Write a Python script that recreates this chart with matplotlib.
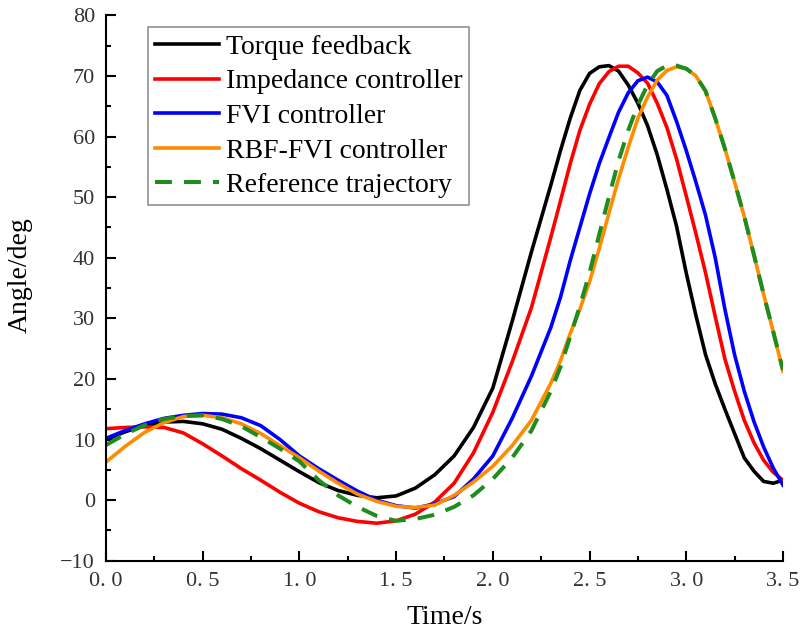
import matplotlib
matplotlib.use("Agg")
import matplotlib.pyplot as plt
from matplotlib.ticker import MultipleLocator, FixedLocator, FixedFormatter

plt.rcParams['font.family'] = ['Liberation Serif', 'DejaVu Serif']

# torque feedback
t_torque = [0, .1, .2, .3, .4, .5, .6, .7, .8, .9, 1.0, 1.1, 1.2, 1.3, 1.4, 1.5, 1.6, 1.7, 1.8, 1.9,
            2.0, 2.1, 2.2, 2.3, 2.35, 2.4, 2.45, 2.5, 2.55, 2.6, 2.65, 2.7, 2.75, 2.8, 2.85, 2.9,
            2.95, 3.0, 3.05, 3.1, 3.15, 3.2, 3.25, 3.3, 3.35, 3.4, 3.45, 3.5]
y_torque = [10.0, 11.3, 12.3, 12.9, 13.0, 12.6, 11.7, 10.2, 8.5, 6.6, 4.7, 2.9, 1.6, 0.8, 0.4, 0.7,
            2.0, 4.2, 7.3, 12.0, 18.5, 29.5, 41.0, 52.0, 57.7, 63.0, 67.6, 70.4, 71.5, 71.7, 70.8,
            68.5, 65.5, 61.8, 57.0, 51.3, 45.2, 37.5, 30.5, 24.0, 19.2, 15.0, 11.0, 7.0, 4.8, 3.1,
            2.8, 3.3]

# impedance controller
t_imp = [0, .1, .2, .3, .4, .5, .6, .7, .8, .9, 1.0, 1.1, 1.2, 1.3, 1.4, 1.5, 1.6, 1.7, 1.8, 1.9,
         2.0, 2.1, 2.2, 2.3, 2.35, 2.4, 2.45, 2.5, 2.55, 2.6, 2.65, 2.7, 2.75, 2.8, 2.85, 2.9,
         2.95, 3.0, 3.05, 3.1, 3.15, 3.2, 3.25, 3.3, 3.35, 3.4, 3.45, 3.5]
y_imp = [11.8, 12.0, 12.1, 12.0, 11.1, 9.3, 7.3, 5.2, 3.3, 1.3, -0.5, -1.9, -2.9, -3.5, -3.8, -3.4,
         -2.3, -0.3, 2.8, 7.8, 14.5, 22.8, 31.8, 43.4, 49.4, 55.5, 61.0, 65.3, 68.7, 70.7, 71.6,
         71.6, 70.5, 68.8, 65.5, 61.5, 56.3, 50.2, 44.0, 37.5, 30.3, 23.3, 18.0, 13.2, 9.5, 6.6,
         4.6, 3.3]

# FVI controller
t_fvi = [0, .1, .2, .3, .4, .5, .6, .7, .8, .9, 1.0, 1.1, 1.2, 1.3, 1.4, 1.5, 1.6, 1.7, 1.8, 1.9,
         2.0, 2.1, 2.2, 2.3, 2.35, 2.4, 2.45, 2.5, 2.55, 2.6, 2.65, 2.7, 2.75, 2.8, 2.85, 2.9,
         2.95, 3.0, 3.05, 3.1, 3.15, 3.2, 3.25, 3.3, 3.35, 3.4, 3.45, 3.5]
y_fvi = [10.2, 11.5, 12.6, 13.5, 14.0, 14.3, 14.2, 13.6, 12.3, 10.0, 7.3, 5.2, 3.3, 1.5, 0.0, -0.9,
         -1.3, -0.6, 0.6, 3.5, 7.3, 13.5, 20.5, 28.5, 33.5, 39.5, 45.0, 50.5, 55.5, 59.8, 64.0,
         67.2, 69.2, 69.8, 69.0, 66.8, 62.5, 57.7, 52.5, 47.0, 40.0, 31.5, 24.0, 18.0, 13.0, 8.8,
         5.3, 2.5]

# RBF-FVI controller
t_rbf = [0, .1, .2, .3, .4, .5, .6, .7, .8, .9, 1.0, 1.1, 1.2, 1.3, 1.4, 1.5, 1.6, 1.7, 1.8, 1.9,
         2.0, 2.1, 2.2, 2.3, 2.35, 2.4, 2.45, 2.5, 2.55, 2.6, 2.65, 2.7, 2.75, 2.8, 2.85, 2.9,
         2.95, 3.0, 3.05, 3.1, 3.15, 3.2, 3.25, 3.3, 3.35, 3.4, 3.45, 3.5]
y_rbf = [6.3, 8.9, 11.2, 12.8, 13.8, 14.0, 13.6, 12.6, 11.0, 9.0, 7.0, 4.8, 2.8, 1.0, -0.2, -1.0,
         -1.2, -0.8, 0.8, 3.0, 5.6, 9.0, 13.2, 19.3, 23.0, 27.5, 31.5, 36.0, 41.5, 47.3, 53.0,
         58.2, 63.0, 66.5, 69.3, 70.9, 71.5, 71.2, 70.0, 67.5, 63.0, 58.0, 52.5, 46.8, 40.5, 34.0,
         27.8, 21.3]

# reference trajectory
t_ref = [0, .1, .2, .3, .4, .5, .6, .7, .8, .9, 1.0, 1.1, 1.2, 1.3, 1.4, 1.5, 1.6, 1.7, 1.8, 1.9,
         2.0, 2.1, 2.2, 2.3, 2.35, 2.4, 2.45, 2.5, 2.55, 2.6, 2.65, 2.7, 2.75, 2.8, 2.85, 2.9,
         2.95, 3.0, 3.05, 3.1, 3.15, 3.2, 3.25, 3.3, 3.35, 3.4, 3.45, 3.5]
y_ref = [9.1, 10.9, 12.4, 13.4, 13.9, 14.0, 13.4, 12.2, 10.4, 8.5, 6.4, 3.3, 0.8, -1.1, -2.6, -3.4,
         -3.1, -2.4, -1.1, 0.8, 3.5, 7.0, 11.5, 18.0, 22.0, 27.0, 32.0, 37.5, 43.8, 50.0, 56.0,
         61.0, 65.2, 68.5, 70.8, 71.7, 71.7, 71.2, 70.0, 67.5, 63.0, 58.0, 52.5, 46.8, 40.5, 34.0,
         27.8, 21.5]

xticks = [0, 0.5, 1.0, 1.5, 2.0, 2.5, 3.0, 3.5]
xlabels = ['0. 0', '0. 5', '1. 0', '1. 5', '2. 0', '2. 5', '3. 0', '3. 5']

fig = plt.figure(figsize=(8.03, 6.38), dpi=100)
ax = fig.add_axes([0.132, 0.121, 0.843, 0.855])

lw = 2.6
ax.plot(t_torque, y_torque, color='black', lw=lw, label='Torque feedback')
ax.plot(t_imp, y_imp, color='#ff0000', lw=lw, label='Impedance controller')
ax.plot(t_fvi, y_fvi, color='#0000ff', lw=lw, label='FVI controller')
ax.plot(t_rbf, y_rbf, color='#ff8c00', lw=lw, label='RBF-FVI controller')
ax.plot(t_ref, y_ref, color='#1e8c1e', lw=lw + 0.3, ls=(0, (4.2, 3.0)), label='Reference trajectory')

ax.set_xlim(0, 3.5)
ax.set_ylim(-10, 80)
ax.xaxis.set_major_locator(FixedLocator(xticks))
ax.xaxis.set_major_formatter(FixedFormatter(xlabels))
ax.xaxis.set_minor_locator(MultipleLocator(0.25))
ax.yaxis.set_major_locator(MultipleLocator(10))
ax.yaxis.set_minor_locator(MultipleLocator(5))

for s in ['top', 'right']:
    ax.spines[s].set_visible(False)
for s in ['left', 'bottom']:
    ax.spines[s].set_linewidth(1.5)

ax.tick_params(which='major', direction='in', length=7.5, width=1.5, pad=8,
               labelsize=16, labelcolor='#333333')
ax.tick_params(which='minor', direction='in', length=3.8, width=1.5)

ax.set_xlabel('Time/s', fontsize=20, labelpad=10)
ax.set_ylabel('Angle/deg', fontsize=20)
ax.yaxis.set_label_coords(-0.108, 0.524)

leg = ax.legend(loc='upper left', bbox_to_anchor=(0.062, 0.978), borderaxespad=0,
                fontsize=20, frameon=True, fancybox=False, edgecolor='#777777',
                handlelength=2.3, handletextpad=0.25, labelspacing=0.33,
                borderpad=0.25)
leg.get_frame().set_linewidth(1.2)

fig.savefig('out.png', dpi=100)
